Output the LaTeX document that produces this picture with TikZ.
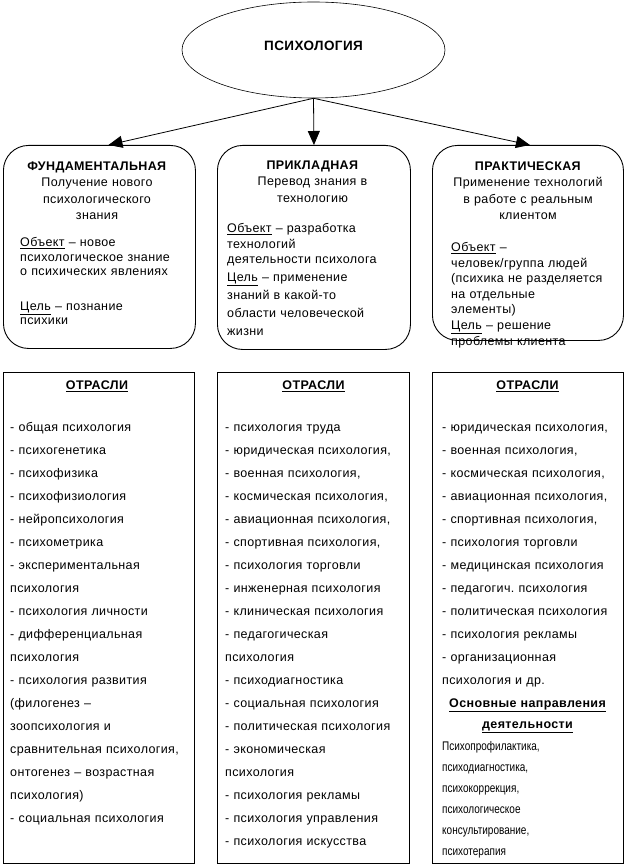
\documentclass[tikz,border=0pt]{standalone}
\usepackage{fontspec}
\setmainfont{Liberation Sans}[LetterSpace=3]
\newfontfamily\narrowfont{Liberation Sans}[FakeStretch=0.8]
\usetikzlibrary{shapes.geometric,arrows.meta,calc}
\begin{document}
\begin{tikzpicture}[x=1pt,y=-1pt,
  rbox/.style={draw, line width=0.9pt, rounded corners=25pt, inner sep=0, anchor=north west},
  cbox/.style={draw, line width=0.9pt, inner sep=0, anchor=north west},
  arr/.style={line width=0.8pt, -{Triangle[length=14pt,width=12pt]}},
  hd/.style={inner sep=0, anchor=base, align=center, text width=190pt, font=\fontsize{12.5}{16.3}\selectfont},
  bd/.style={inner sep=0, anchor=base west, align=left, text width=200pt, font=\fontsize{12.5}{14.5}\selectfont},
  lst/.style={inner sep=0, anchor=base west, align=left, text width=200pt, font=\fontsize{12.5}{23}\selectfont},
  ttl/.style={inner sep=0, anchor=base, font=\bfseries\fontsize{12.5}{16}\selectfont},
]
\useasboundingbox (0,0) rectangle (626,866);

% top ellipse
\node[draw, ellipse, line width=0.6pt, minimum width=263pt, minimum height=96pt, inner sep=0,
      text depth=8pt, font=\bfseries\fontsize{13.5}{16}\selectfont] (psy) at (313.5,50) {ПСИХОЛОГИЯ};

% rounded boxes
\node[rbox, minimum width=192pt, minimum height=203pt] (f) at (3,145) {};
\node[rbox, minimum width=193pt, minimum height=204pt] (p) at (217,145) {};
\node[rbox, minimum width=191pt, minimum height=195pt] (r) at (432,145) {};

% arrows
\draw[arr] (psy.south) -- ($(f.north)+(9,0)$);
\draw[arr] (psy.south) -- (p.north);
\draw[arr] (psy.south) -- ($(r.north)+(2,0)$);

% box texts: fundamental
\node[hd] (fh) at (97,170.5) {\textbf{ФУНДАМЕНТАЛЬНАЯ}\\Получение нового\\психологического\\знания};
\node[bd] (fb) at (20,247) {\underline{Объект} – новое\\психологическое знание\\о психических явлениях\\[20pt]\underline{Цель} – познание\\психики};

% applied
\node[hd] (ph) at (312.5,169.5) {\textbf{ПРИКЛАДНАЯ}\\Перевод знания в\\технологию};
\node[bd, font=\fontsize{12.5}{15.5}\selectfont] (pb1) at (227,233) {\underline{Объект} – разработка\\технологий\\деятельности психолога};
\node[bd, font=\fontsize{12.5}{18.3}\selectfont] (pb2) at (227,281) {\underline{Цель} – применение\\знаний в какой-то\\области человеческой\\жизни};

% practical
\node[hd] (rh) at (528,170.5) {\textbf{ПРАКТИЧЕСКАЯ}\\Применение технологий\\в работе с реальным\\клиентом};
\node[bd, font=\fontsize{12.5}{15.5}\selectfont] (rb) at (451,252) {\underline{Объект} –\\человек/группа людей\\(психика не разделяется\\на отдельные\\элементы)\\\underline{Цель} – решение\\проблемы клиента};

% column boxes
\node[cbox, minimum width=191pt, minimum height=491pt] (c1) at (3,372) {};
\node[cbox, minimum width=192pt, minimum height=491pt] (c2) at (217,372) {};
\node[cbox, minimum width=191pt, minimum height=491pt] (c3) at (432,372) {};

\node[ttl] (t1) at (97,389.5) {\underline{ОТРАСЛИ}};
\node[ttl] (t2) at (313.5,389.5) {\underline{ОТРАСЛИ}};
\node[ttl] (t3) at (527.5,389.5) {\underline{ОТРАСЛИ}};

\node[lst] (l1) at (10,431.5) {- общая психология\\- психогенетика\\- психофизика\\- психофизиология\\- нейропсихология\\- психометрика\\- экспериментальная\\психология\\- психология личности\\- дифференциальная\\психология\\- психология развития\\(филогенез –\\зоопсихология и\\сравнительная психология,\\онтогенез – возрастная\\психология)\\- социальная психология};

\node[lst] (l2) at (225,431.5) {- психология труда\\- юридическая психология,\\- военная психология,\\- космическая психология,\\- авиационная психология,\\- спортивная психология,\\- психология торговли\\- инженерная психология\\- клиническая психология\\- педагогическая\\психология\\- психодиагностика\\- социальная психология\\- политическая психология\\- экономическая\\психология\\- психология рекламы\\- психология управления\\- психология искусства};

\node[lst] (l3) at (442,431.5) {- юридическая психология,\\- военная психология,\\- космическая психология,\\- авиационная психология,\\- спортивная психология,\\- психология торговли\\- медицинская психология\\- педагогич.\ психология\\- политическая психология\\- психология рекламы\\- организационная\\психология и др.};

\node[ttl, align=center, text width=190pt, font=\bfseries\fontsize{12.5}{20.5}\selectfont] (dir) at (527.5,707.5) {\underline{Основные направления}\\\underline{деятельности}};

\node[lst, font=\narrowfont\fontsize{12.5}{21}\selectfont] (l4) at (442,750) {Психопрофилактика,\\психодиагностика,\\психокоррекция,\\психологическое\\консультирование,\\психотерапия};
\end{tikzpicture}
\end{document}
